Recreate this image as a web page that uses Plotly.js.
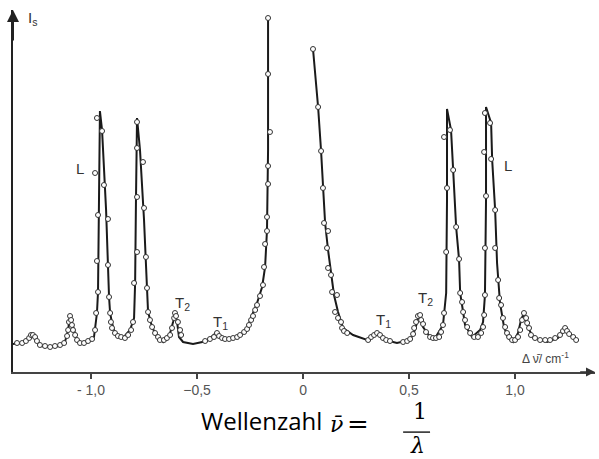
<!DOCTYPE html>
<html>
<head>
<meta charset="utf-8">
<script src="https://cdn.plot.ly/plotly-3.0.1.min.js"></script>
<style>html,body{margin:0;padding:0;background:#fff;}#chart{width:599px;height:459px;}</style>
</head>
<body>
<div id="chart"></div>
<script>
// Spectrum (theoretical curve), Δν̄ in cm^-1, intensity in arbitrary units
const curveX = [
 -1.368,-1.325,-1.297,-1.278,-1.259,-1.241,-1.193,-1.146,-1.123,-1.108,-1.099,-1.085,-1.071,-1.052,-1.014,-0.986,
 -0.972,-0.967,-0.962,-0.958,-0.948,-0.929,-0.915,-0.910,-0.901,-0.887,-0.849,-0.816,-0.797,-0.792,-0.788,-0.783,
 -0.769,-0.750,-0.736,-0.731,-0.712,-0.689,-0.660,-0.627,-0.613,-0.604,-0.594,-0.585,-0.566,-0.519,-0.453,-0.406,
 -0.382,-0.358,-0.311,-0.264,-0.250,-0.217,-0.193,-0.179,-0.170,-0.165,-0.165,
 null,
 0.047,0.071,0.085,0.094,0.104,0.118,0.132,0.146,0.165,0.189,0.236,0.302,0.325,0.349,0.368,0.387,0.443,0.505,
 0.528,0.547,0.566,0.599,0.623,0.660,0.675,0.679,0.679,0.698,0.708,0.722,0.736,0.741,0.755,0.764,0.797,0.835,
 0.849,0.858,0.863,0.863,0.887,0.892,0.906,0.915,0.929,0.948,0.967,0.991,1.014,1.028,1.042,1.061,1.085,1.151,
 1.203,1.222,1.236,1.259,1.292
];
const curveY = [
 28,29,34,37,33,26,25,26,30,42,57,45,35,28,30,35,
 59,80,172,261,242,162,75,59,49,39,34,42,54,89,172,254,
 222,152,84,60,45,35,30,39,50,59,50,35,30,28,31,40,
 34,32,35,42,52,69,85,105,142,222,354,
 null,
 323,265,221,184,149,122,97,77,60,44,37,32,35,39,35,32,29,32,
 42,57,45,35,34,47,79,172,263,242,202,145,112,79,60,47,35,42,
 50,77,172,265,249,212,162,109,69,45,34,30,39,52,59,45,34,30,
 34,39,44,37,32
];
// Measured points (open circles)
const pointsX = [
 -1.349,-1.325,-1.307,-1.292,-1.283,-1.274,-1.264,-1.255,-1.241,-1.217,-1.193,-1.170,-1.146,-1.127,-1.113,-1.108,
 -1.104,-1.099,-1.094,-1.090,-1.085,-1.075,-1.066,-1.052,-1.033,-1.014,-0.995,-0.981,-0.976,-0.967,-0.972,-0.967,
 -0.981,-0.972,-0.948,-0.939,-0.920,-0.920,-0.915,-0.910,-0.906,-0.901,-0.887,-0.873,-0.858,-0.840,-0.825,-0.811,
 -0.802,-0.797,-0.783,-0.783,-0.783,-0.783,-0.755,-0.750,-0.741,-0.736,-0.731,-0.722,-0.712,-0.698,-0.684,-0.675,
 -0.656,-0.642,-0.627,-0.618,-0.608,-0.604,-0.599,-0.590,-0.580,-0.575,-0.462,-0.439,-0.420,-0.406,-0.396,-0.382,
 -0.368,-0.349,-0.330,-0.311,-0.297,-0.278,-0.264,-0.255,-0.245,-0.236,-0.226,-0.217,-0.203,-0.189,-0.184,-0.179,
 -0.170,-0.170,-0.165,-0.165,-0.156,-0.165,-0.165,
 0.047,0.071,0.085,0.094,0.099,0.118,0.113,0.118,0.132,0.137,0.160,0.151,0.165,0.179,0.184,0.193,0.208,
 0.307,0.321,0.335,0.349,0.363,0.377,0.392,0.410,0.472,0.491,0.505,0.519,0.524,0.533,0.542,0.552,0.557,0.566,
 0.580,0.599,0.613,0.627,0.642,0.651,0.660,0.665,0.675,0.679,0.665,0.693,0.708,0.722,0.736,0.741,0.750,0.755,
 0.764,0.774,0.788,0.807,0.825,0.840,0.849,0.854,0.858,0.858,0.863,0.854,0.858,0.882,0.887,0.906,0.906,0.920,
 0.925,0.934,0.943,0.953,0.962,0.972,0.986,1.000,1.014,1.024,1.033,1.042,1.052,1.057,1.066,1.075,1.094,1.118,
 1.142,1.165,1.189,1.212,1.226,1.236,1.245,1.255,1.274,1.288
];
const pointsY = [
 29,29,31,34,37,37,35,31,27,26,25,26,27,29,36,42,
 50,56,52,47,42,37,32,29,29,31,33,42,59,80,111,157,
 199,254,241,187,153,107,75,59,50,44,39,36,35,34,37,42,
 50,89,120,175,224,250,210,164,115,84,60,52,45,39,35,32,
 32,34,37,44,54,59,56,50,42,37,31,33,35,39,36,34,
 33,33,34,35,37,40,43,47,52,56,62,67,76,87,105,128,
 141,155,188,206,240,298,354,
 323,265,221,184,149,141,124,104,97,80,77,60,54,50,44,41,39,
 32,35,37,39,37,34,32,31,30,31,33,38,44,50,56,57,52,48,
 40,35,34,34,35,40,47,59,120,184,235,242,202,145,113,79,70,60,
 52,45,39,35,35,39,45,57,77,124,176,220,259,249,213,162,124,92,
 74,67,54,45,39,35,32,32,35,42,52,59,54,49,44,37,34,32,
 32,32,34,37,41,44,41,38,35,32
];
const tickVals = [-1, -0.5, 0, 0.5, 1];
const tickText = ['- 1,0', '\u22120,5', '0', '0,5', '1,0'];

const ink = '#1a1a1a';
const traces = [
  {x: curveX, y: curveY, mode: 'lines', line: {color: ink, width: 2}, connectgaps: false, hoverinfo: 'skip'},
  {x: pointsX, y: pointsY, mode: 'markers',
   marker: {symbol: 'circle', size: 5, color: '#ffffff', line: {color: '#333', width: 1}}, hoverinfo: 'skip'}
];

const serif = 'DejaVu Serif, Liberation Serif, serif';
const sans = 'Open Sans, Noto Sans, sans-serif';
const lab = {family: 'Liberation Sans, Arial, sans-serif', size: 15, color: '#333'};

function ann(x, y, text, font, xref, yref) {
  return {x: x, y: y, xref: xref || 'x', yref: yref || 'y', text: text, showarrow: false,
          xanchor: 'center', yanchor: 'middle', font: font};
}

const layout = {
  width: 599, height: 459,
  margin: {l: 13, r: 4, t: 10, b: 87},
  paper_bgcolor: '#fff', plot_bgcolor: '#fff',
  showlegend: false,
  xaxis: {
    range: [-1.368, 1.377], showgrid: false, zeroline: false,
    showline: true, linecolor: '#444', linewidth: 1.5,
    ticks: 'outside', ticklen: 5, tickcolor: '#444', tickwidth: 1.2,
    tickvals: tickVals, ticktext: tickText,
    tickfont: {family: 'Liberation Sans, Arial, sans-serif', size: 14, color: '#555'}
  },
  yaxis: {
    range: [0, 362], showgrid: false, zeroline: false,
    showline: true, linecolor: '#222', linewidth: 2,
    showticklabels: false, ticks: ''
  },
  annotations: [
    {x: -1.368, y: 362, ax: -1.368, ay: 330, xref: 'x', yref: 'y', axref: 'x', ayref: 'y',
     text: '', showarrow: true, arrowhead: 2, arrowsize: 1.2, arrowwidth: 2, arrowcolor: '#222'},
    {x: 1.377, y: 0, ax: 1.30, ay: 0, xref: 'x', yref: 'y', axref: 'x', ayref: 'y',
     text: '', showarrow: true, arrowhead: 2, arrowsize: 1.2, arrowwidth: 1.5, arrowcolor: '#333'},
    ann(-1.275, 354, 'I<sub>s</sub>', lab),
    ann(-1.052, 204, 'L', lab),
    ann(0.967, 207, 'L', lab),
    ann(-0.568, 69, 'T<sub>2</sub>', lab),
    ann(-0.390, 50, 'T<sub>1</sub>', lab),
    ann(0.380, 52, 'T<sub>1</sub>', lab),
    ann(0.578, 74, 'T<sub>2</sub>', lab),
    ann(1.145, 14, '\u0394 \u03bd\u0304/ cm<sup>-1</sup>', {family: 'Liberation Sans, Arial, sans-serif', size: 12, color: '#444'}),
    // axis title: Wellenzahl ν̄ = 1/λ
    ann(-0.198, -0.135, 'Wellenzahl', {family: sans, size: 24, color: '#000'}, 'x', 'paper'),
    ann(0.156, -0.146, '<i>\u03bd\u0304</i>', {family: serif, size: 22, color: '#000'}, 'x', 'paper'),
    ann(0.259, -0.144, '=', {family: serif, size: 26, color: '#000'}, 'x', 'paper'),
    ann(0.552, -0.110, '1', {family: serif, size: 22, color: '#000'}, 'x', 'paper'),
    ann(0.542, -0.204, '<i>\u03bb</i>', {family: serif, size: 22, color: '#000'}, 'x', 'paper')
  ],
  shapes: [
    {type: 'line', xref: 'x', yref: 'paper', x0: 0.472, x1: 0.599, y0: -0.166, y1: -0.166,
     line: {color: '#000', width: 1.3}}
  ]
};

Plotly.newPlot('chart', traces, layout, {displayModeBar: false, staticPlot: true});
</script>
</body>
</html>
